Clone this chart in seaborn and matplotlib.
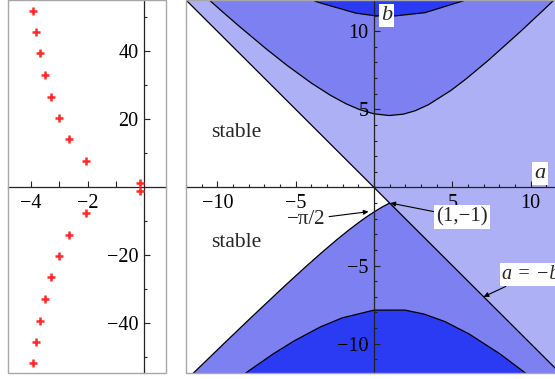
import numpy as np
import matplotlib
matplotlib.use("Agg")
import matplotlib.pyplot as plt
from matplotlib.patches import Rectangle
from matplotlib.ticker import MultipleLocator, FixedLocator, FuncFormatter
import seaborn as sns

sns.set_theme(style="white")
plt.rcParams["font.family"] = ["Liberation Serif", "DejaVu Serif"]
plt.rcParams["axes.unicode_minus"] = True

# left panel: characteristic roots (real part, imaginary part)
root_re = [-0.15, -2.07, -2.66, -3.02, -3.30, -3.50, -3.68, -3.82, -3.95,
           -0.15, -2.07, -2.66, -3.02, -3.30, -3.50, -3.68, -3.82, -3.95]
root_im = [1.09, 7.56, 14.0, 20.3, 26.6, 32.9, 39.3, 45.6, 51.9,
           -1.09, -7.56, -14.0, -20.3, -26.6, -32.9, -39.3, -45.6, -51.9]

# right panel: boundary curves in the (a, b) plane
line_a = [-14.0, 1.0, 14.0]
line_b = [14.0, -1.0, -14.0]

curve1_a = [1.0, 0.915, 0.642, 0.361, 0.0, -0.420, -0.915, -1.601, -2.321,
            -3.346, -4.322, -5.711, -7.875, -9.471, -11.77, -12.99]
curve1_b = [-1.0, -1.043, -1.188, -1.349, -1.571, -1.848, -2.200, -2.721, -3.303,
            -4.177, -5.044, -6.317, -8.358, -9.891, -12.12, -13.32]

curve2_a = [12.86, 10.83, 9.344, 7.295, 5.923, 4.912, 3.455, 2.616, 1.881, 0.970,
            0.0, -0.930, -1.773, -2.757, -3.963, -5.525, -6.880, -8.640, -9.742,
            -11.05, -12.74]
curve2_b = [13.31, 11.37, 9.977, 8.135, 6.984, 6.210, 5.285, 4.905, 4.693, 4.604,
            4.712, 4.987, 5.352, 5.886, 6.657, 7.796, 8.871, 10.35, 11.31,
            12.48, 14.02]

curve3_a = [11.96, 9.714, 8.033, 6.072, 4.516, 3.191, 1.973, 0.0, -2.034, -3.449,
            -5.104, -6.408, -7.948, -9.823]
curve3_b = [-13.76, -11.92, -10.65, -9.381, -8.583, -8.105, -7.852, -7.854, -8.351,
            -8.942, -9.828, -10.64, -11.71, -13.12]

curve4_a = [8.597, 7.048, 5.676, 3.258, 1.046, 0.0, -1.163, -3.551, -4.880, -6.357, -8.020]
curve4_b = [13.42, 12.56, 11.94, 11.19, 10.95, 11.00, 11.16, 11.85, 12.40, 13.14, 14.10]

light = "#aeb0f5"
medium = "#7c80f1"
dark = "#2b3bf4"
frame_col = "#a8a8a8"

fig = plt.figure(figsize=(5.55, 3.79), dpi=100)
ax1 = fig.add_axes([0.0144, 0.015, 0.2847, 0.985])
ax2 = fig.add_axes([0.3351, 0.015, 0.6775, 0.985])


def axes_at_origin(ax):
    ax.set_axisbelow(False)
    for s in ["top", "right"]:
        ax.spines[s].set_visible(False)
    for s in ["left", "bottom"]:
        ax.spines[s].set_position(("data", 0))
        ax.spines[s].set_color("#222222")
        ax.spines[s].set_linewidth(0.9)
    ax.tick_params(which="both", direction="in", colors="#222222", width=0.8,
                   labelsize=14.5, labelcolor="black",
                   bottom=True, left=True, top=False, right=False)
    ax.tick_params(which="major", length=4.5)
    ax.tick_params(which="minor", length=2.4)
    ax.tick_params(axis="x", pad=5)
    ax.tick_params(axis="y", pad=4)
    ax.add_patch(Rectangle((0, 0), 1, 1, transform=ax.transAxes, fill=False,
                           edgecolor=frame_col, lw=1.0, clip_on=False, zorder=5))


# ---- left panel
axes_at_origin(ax1)
ax1.set_facecolor("white")
sns.scatterplot(x=root_re, y=root_im, marker="+", color="#ff2a2a", s=34,
                linewidth=1.8, ax=ax1, zorder=4)
ax1.set_xlim(-4.82, 0.78)
ax1.set_ylim(-54.8, 55)
ax1.set_xticks([-4, -3, -2, -1])
ax1.set_xticklabels(["\u22124", "", "\u22122", ""])
ax1.set_yticks([-40, -20, 20, 40])
ax1.set_yticklabels(["\u221240", "\u221220", "20", "40"])
ax1.yaxis.set_minor_locator(FixedLocator([-50, -30, -10, 10, 30, 50]))

# ---- right panel
axes_at_origin(ax2)
ax2.set_facecolor(light)
ax2.fill(line_a[:2] + curve1_a, line_b[:2] + curve1_b, color="white", lw=0, zorder=1)
ax2.fill(curve1_a + line_a[::-1][:2], curve1_b + line_b[::-1][:2], color=medium, lw=0, zorder=1)
ax2.fill(curve3_a, curve3_b, color=dark, lw=0, zorder=1)
ax2.fill(curve2_a, curve2_b, color=medium, lw=0, zorder=1)
ax2.fill(curve4_a, curve4_b, color=dark, lw=0, zorder=1)

for xs, ys in [(line_a, line_b), (curve1_a, curve1_b), (curve2_a, curve2_b),
               (curve3_a, curve3_b), (curve4_a, curve4_b)]:
    sns.lineplot(x=xs, y=ys, sort=False, estimator=None, color="black",
                 linewidth=0.9, ax=ax2, zorder=2)

ax2.set_xlim(-12, 12)
ax2.set_ylim(-11.9, 12)
ax2.xaxis.set_major_locator(MultipleLocator(5))
ax2.xaxis.set_minor_locator(MultipleLocator(1))
ax2.yaxis.set_major_locator(MultipleLocator(5))
ax2.yaxis.set_minor_locator(MultipleLocator(1))
fmt = FuncFormatter(lambda v, _: "" if abs(v) < 1e-9 else f"{v:.0f}".replace("-", "\u2212"))
ax2.xaxis.set_major_formatter(fmt)
ax2.yaxis.set_major_formatter(fmt)

box = dict(facecolor="white", edgecolor="none", pad=1.5)
ax2.text(0.8, 11.0, "b", fontsize=16, fontstyle="italic", ha="center", va="center",
         bbox=box, zorder=6)
ax2.text(10.6, 0.9, "a", fontsize=16, fontstyle="italic", ha="center", va="center",
         bbox=box, zorder=6)
ax2.text(-8.8, 3.5, "stable", fontsize=15.5, ha="center", va="center", zorder=6)
ax2.text(-8.8, -3.5, "stable", fontsize=15.5, ha="center", va="center", zorder=6)

arrow = dict(arrowstyle="-|>", color="black", lw=0.8, mutation_scale=7, shrinkA=0, shrinkB=0)
ax2.annotate("\u2212\u03c0/2", xy=(-0.35, -1.55), xytext=(-4.3, -2.05), fontsize=15,
             ha="center", va="center", arrowprops=arrow, zorder=6)
ax2.annotate("(1,\u22121)", xy=(1.05, -1.0), xytext=(5.6, -1.9), fontsize=15,
             ha="center", va="center", bbox=box, arrowprops=arrow, zorder=6)
ax2.annotate("a = \u2212b", xy=(7.0, -7.0), xytext=(8.15, -5.6), fontsize=14.5,
             fontstyle="italic", ha="left", va="center", bbox=box,
             arrowprops=arrow, zorder=6)

fig.savefig("out.png", dpi=100)
